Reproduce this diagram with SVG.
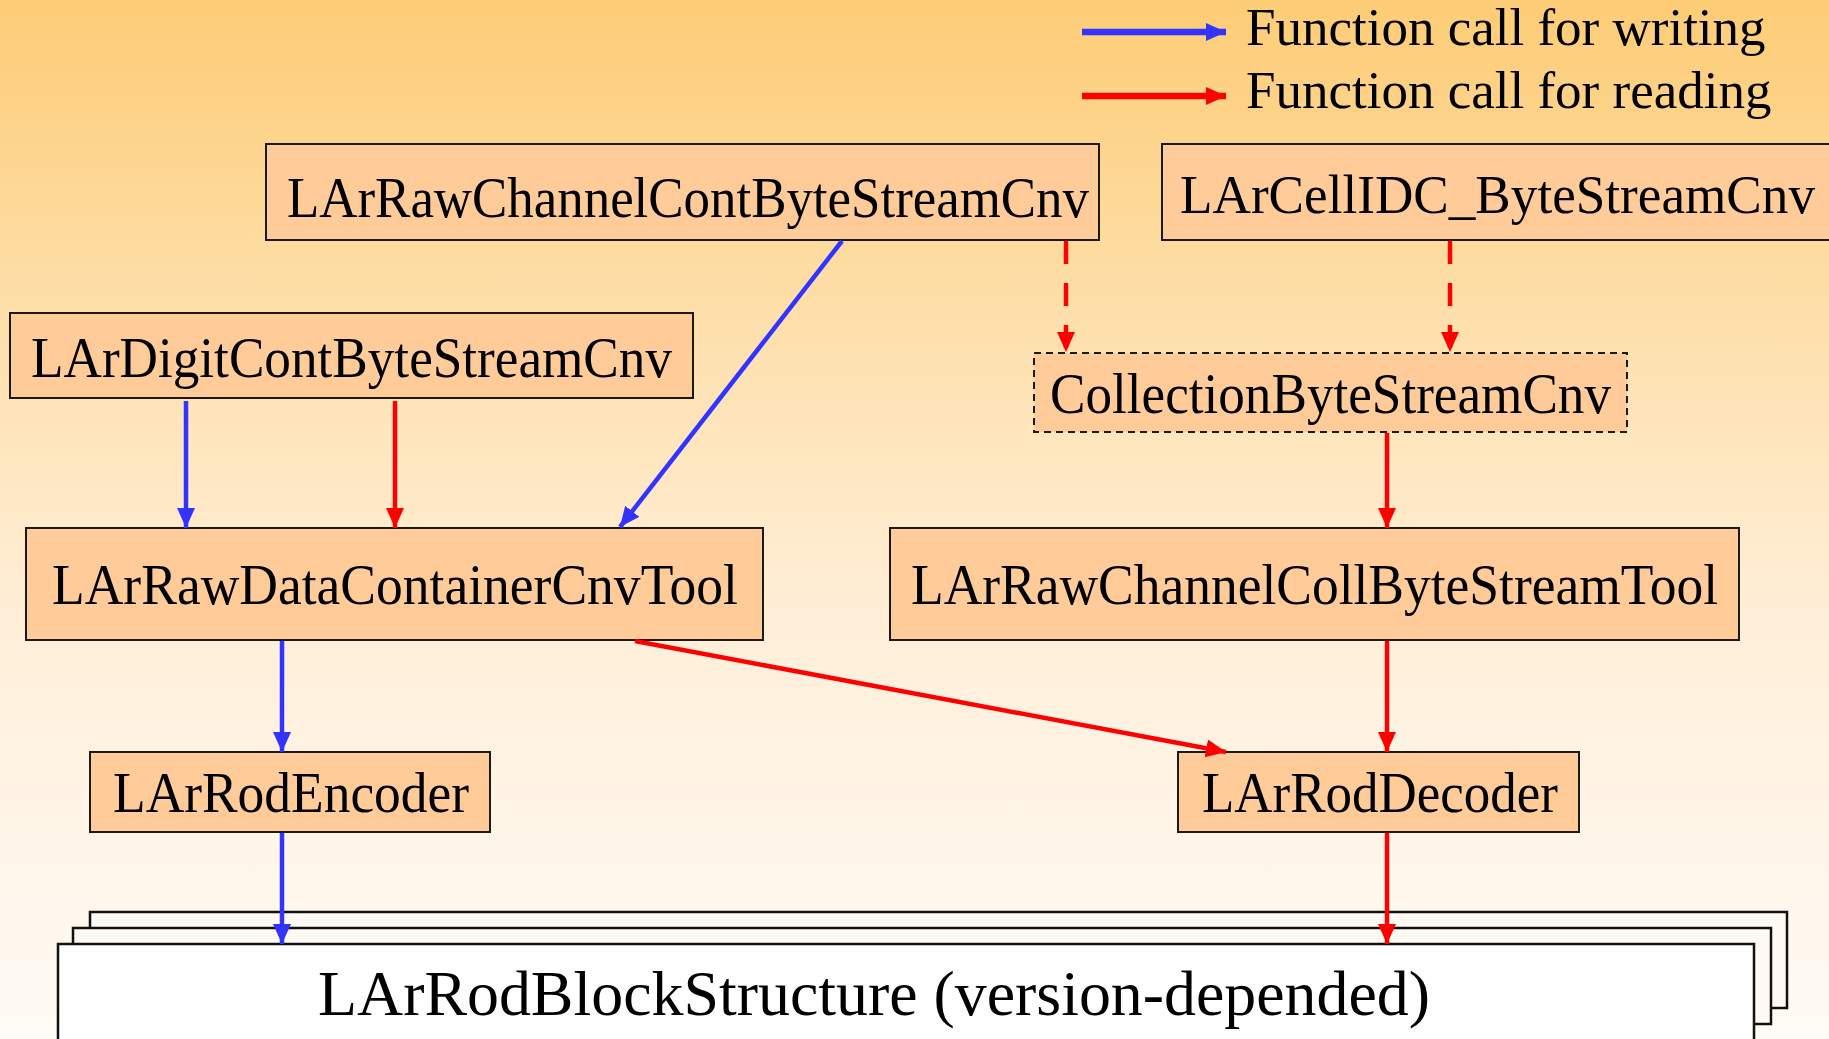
<svg xmlns="http://www.w3.org/2000/svg" width="1829" height="1039" viewBox="0 0 1829 1039" font-family="'Liberation Serif', 'Times New Roman', Times, serif">
<style>
.box{fill:#FFCB98;stroke:#1a1a1a;stroke-width:2}
.dbox{fill:#FFCB98;stroke:#1a1a1a;stroke-width:2;stroke-dasharray:7 5}
.blk{stroke:#111;stroke-width:2.5}
text{font-family:'Liberation Serif','Times New Roman',Times,serif;fill:#000}
.t{font-size:58px}
.tb{font-size:64px}
.lg{font-size:53px}
.w{stroke:#3333FF;stroke-width:4.5;fill:none}
.r{stroke:#FF0000;stroke-width:4.5;fill:none}
.rd{stroke:#FF0000;stroke-width:4.5;fill:none;stroke-dasharray:23 19}
</style>
<defs>
<linearGradient id="bg" x1="0" y1="0" x2="0" y2="1">
<stop offset="0" stop-color="#FDCC76"/>
<stop offset="0.3" stop-color="#FEDFAA"/>
<stop offset="0.6" stop-color="#FFEFD9"/>
<stop offset="1" stop-color="#FFFBF6"/>
</linearGradient>
<marker id="ab" markerUnits="userSpaceOnUse" markerWidth="22" markerHeight="20" refX="20" refY="9" orient="auto">
<path d="M0,0 L20,9 L0,18 z" fill="#3333FF"/>
</marker>
<marker id="ar" markerUnits="userSpaceOnUse" markerWidth="22" markerHeight="20" refX="20" refY="9" orient="auto">
<path d="M0,0 L20,9 L0,18 z" fill="#FF0000"/>
</marker>
</defs>
<rect x="0" y="0" width="1829" height="1039" fill="url(#bg)"/>

<g id="legend">
<line x1="1082" y1="32" x2="1226" y2="32" stroke="#3333FF" stroke-width="6.5" marker-end="url(#ab)"/>
<text class="lg" x="1246" y="45">Function call for writing</text>
<line x1="1082" y1="96" x2="1226" y2="96" stroke="#FF0000" stroke-width="6.5" marker-end="url(#ar)"/>
<text class="lg" x="1246" y="108">Function call for reading</text>
</g>

<g id="block-structure">
<rect class="blk" x="90" y="912" width="1697" height="96" fill="#FFFAF3"/>
<rect class="blk" x="73" y="928" width="1698" height="96" fill="#FFFAF3"/>
<rect class="blk" x="58" y="944" width="1696" height="110" fill="#FFFFFF"/>
<text class="tb" x="318" y="1015" textLength="1112" lengthAdjust="spacingAndGlyphs">LArRodBlockStructure (version-depended)</text>
</g>

<g id="n-rawchannelcont">
<rect class="box" x="266" y="144" width="833" height="96"/>
<text class="t" x="287" y="217" textLength="802" lengthAdjust="spacingAndGlyphs">LArRawChannelContByteStreamCnv</text>
</g>
<g id="n-cellidc">
<rect class="box" x="1162" y="144" width="669" height="96"/>
<text class="t" x="1180" y="213" font-size="54" style="font-size:54px" textLength="635" lengthAdjust="spacingAndGlyphs">LArCellIDC_ByteStreamCnv</text>
</g>
<g id="n-digitcont">
<rect class="box" x="10" y="313" width="683" height="85"/>
<text class="t" x="31" y="377" textLength="641" lengthAdjust="spacingAndGlyphs">LArDigitContByteStreamCnv</text>
</g>
<g id="n-collection">
<rect class="dbox" x="1034" y="353" width="593" height="79"/>
<text class="t" x="1050" y="413" textLength="561" lengthAdjust="spacingAndGlyphs">CollectionByteStreamCnv</text>
</g>
<g id="n-rawdatacontainer">
<rect class="box" x="26" y="528" width="737" height="112"/>
<text class="t" x="52" y="604" textLength="686" lengthAdjust="spacingAndGlyphs">LArRawDataContainerCnvTool</text>
</g>
<g id="n-rawchannelcoll">
<rect class="box" x="890" y="528" width="849" height="112"/>
<text class="t" x="911" y="604" textLength="807" lengthAdjust="spacingAndGlyphs">LArRawChannelCollByteStreamTool</text>
</g>
<g id="n-rodencoder">
<rect class="box" x="90" y="752" width="400" height="80"/>
<text class="t" x="113" y="812" textLength="356" lengthAdjust="spacingAndGlyphs">LArRodEncoder</text>
</g>
<g id="n-roddecoder">
<rect class="box" x="1178" y="752" width="401" height="80"/>
<text class="t" x="1202" y="812" textLength="356" lengthAdjust="spacingAndGlyphs">LArRodDecoder</text>
</g>

<g id="connectors">
<line class="w" x1="186" y1="401" x2="186" y2="528" marker-end="url(#ab)"/>
<line class="r" x1="395" y1="401" x2="395" y2="528" marker-end="url(#ar)"/>
<line class="w" x1="842" y1="241" x2="620" y2="527" marker-end="url(#ab)"/>
<line class="rd" x1="1066" y1="241" x2="1066" y2="352" marker-end="url(#ar)"/>
<line class="rd" x1="1450" y1="241" x2="1450" y2="352" marker-end="url(#ar)"/>
<line class="r" x1="1387" y1="433" x2="1387" y2="528" marker-end="url(#ar)"/>
<line class="w" x1="282" y1="641" x2="282" y2="752" marker-end="url(#ab)"/>
<line class="r" x1="635" y1="641" x2="1226" y2="752" stroke-width="5" marker-end="url(#ar)"/>
<line class="r" x1="1387" y1="641" x2="1387" y2="752" marker-end="url(#ar)"/>
<line class="w" x1="282" y1="833" x2="282" y2="944" marker-end="url(#ab)"/>
<line class="r" x1="1387" y1="833" x2="1387" y2="944" marker-end="url(#ar)"/>
</g>
</svg>
